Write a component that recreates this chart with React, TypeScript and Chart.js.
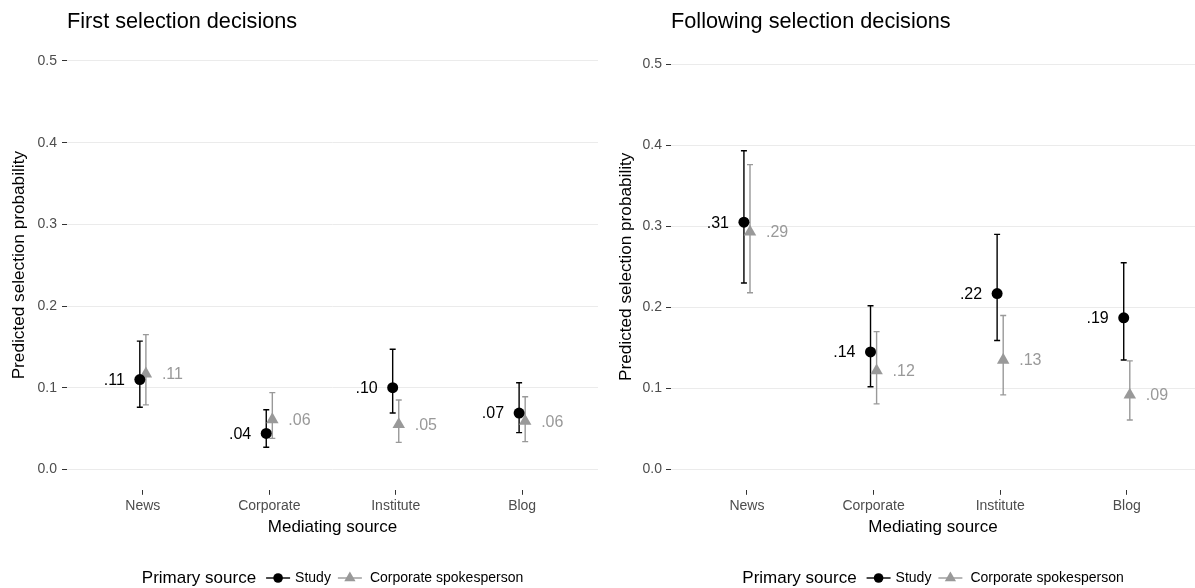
import React, { useEffect, useRef } from 'react';
import { Chart, registerables } from 'chart.js';

Chart.register(...registerables);

// ---------- data ----------
const categories = ['News', 'Corporate', 'Institute', 'Blog'];
const yTicks = [0, 0.1, 0.2, 0.3, 0.4, 0.5];
const seriesNames = ['Study', 'Corporate spokesperson'];
const legendTitle = 'Primary source';
const xTitle = 'Mediating source';
const yTitle = 'Predicted selection probability';

// First selection decisions
const firstTitle = 'First selection decisions';
const firstStudy = [0.110, 0.044, 0.100, 0.069];
const firstStudyLow = [0.076, 0.027, 0.069, 0.045];
const firstStudyHigh = [0.157, 0.073, 0.147, 0.106];
const firstStudyLabels = ['.11', '.04', '.10', '.07'];
const firstCorp = [0.117, 0.061, 0.055, 0.059];
const firstCorpLow = [0.079, 0.038, 0.033, 0.034];
const firstCorpHigh = [0.165, 0.094, 0.085, 0.089];
const firstCorpLabels = ['.11', '.06', '.05', '.06'];

// Following selection decisions
const followTitle = 'Following selection decisions';
const followStudy = [0.305, 0.145, 0.217, 0.187];
const followStudyLow = [0.230, 0.102, 0.159, 0.135];
const followStudyHigh = [0.393, 0.202, 0.290, 0.255];
const followStudyLabels = ['.31', '.14', '.22', '.19'];
const followCorp = [0.293, 0.122, 0.135, 0.092];
const followCorpLow = [0.218, 0.081, 0.092, 0.061];
const followCorpHigh = [0.376, 0.170, 0.190, 0.134];
const followCorpLabels = ['.29', '.12', '.13', '.09'];

// ---------- styling ----------
const FONT = "'Liberation Sans', Arial, Helvetica, sans-serif";
const BLACK = '#000000';
const GREY = '#999999';
const DODGE = 0.024;

type PanelProps = {
  title: string;
  study: number[];
  studyLow: number[];
  studyHigh: number[];
  studyLabels: string[];
  corp: number[];
  corpLow: number[];
  corpHigh: number[];
  corpLabels: string[];
  width: number;
  xMax: number;
  padLeft: number;
  padRight: number;
  axisWidth: number;
  titleBottom: number;
  labelPad: number;
};

function Panel(p: PanelProps) {
  const ref = useRef<HTMLCanvasElement | null>(null);

  useEffect(() => {
    const canvas = ref.current;
    if (!canvas) return;

    const series = [
      { vals: p.study, lo: p.studyLow, hi: p.studyHigh, labels: p.studyLabels, off: -DODGE, color: BLACK },
      { vals: p.corp, lo: p.corpLow, hi: p.corpHigh, labels: p.corpLabels, off: DODGE, color: GREY },
    ];

    const errorBars = {
      id: 'errorBars',
      beforeDatasetsDraw(chart: any) {
        const { ctx, scales } = chart;
        const xs = scales.x;
        const ys = scales.y;
        ctx.save();
        series.forEach((s) => {
          ctx.strokeStyle = s.color;
          ctx.lineWidth = 1.4;
          s.vals.forEach((_v, i) => {
            const x = xs.getPixelForValue(i + 1 + s.off);
            const y1 = ys.getPixelForValue(s.lo[i]);
            const y2 = ys.getPixelForValue(s.hi[i]);
            ctx.beginPath();
            ctx.moveTo(x, y1);
            ctx.lineTo(x, y2);
            ctx.moveTo(x - 3, y1);
            ctx.lineTo(x + 3, y1);
            ctx.moveTo(x - 3, y2);
            ctx.lineTo(x + 3, y2);
            ctx.stroke();
          });
        });
        ctx.restore();
      },
    };

    const valueLabels = {
      id: 'valueLabels',
      afterDatasetsDraw(chart: any) {
        const { ctx, scales } = chart;
        const xs = scales.x;
        const ys = scales.y;
        ctx.save();
        ctx.font = `16px ${FONT}`;
        ctx.textBaseline = 'middle';
        series.forEach((s, si) => {
          ctx.fillStyle = s.color;
          ctx.textAlign = si === 0 ? 'right' : 'left';
          s.vals.forEach((v, i) => {
            const x = xs.getPixelForValue(i + 1 + s.off);
            const y = ys.getPixelForValue(v) + 1;
            ctx.fillText(s.labels[i], si === 0 ? x - 15 : x + 16, y);
          });
        });
        ctx.restore();
      },
    };

    const legendPlugin = {
      id: 'bottomLegend',
      afterDraw(chart: any) {
        const { ctx, chartArea } = chart;
        const y = 578;
        ctx.save();
        ctx.textBaseline = 'middle';
        ctx.textAlign = 'left';
        const titleFont = `17px ${FONT}`;
        const itemFont = `14px ${FONT}`;
        ctx.font = titleFont;
        const tW = ctx.measureText(legendTitle).width;
        ctx.font = itemFont;
        const w0 = ctx.measureText(seriesNames[0]).width;
        const w1 = ctx.measureText(seriesNames[1]).width;
        const keyW = 24;
        const total = tW + 10 + keyW + 5 + w0 + 7 + keyW + 8 + w1;
        let x = (chartArea.left + chartArea.right) / 2 - total / 2;
        ctx.font = titleFont;
        ctx.fillStyle = '#000';
        ctx.fillText(legendTitle, x, y);
        x += tW + 10;
        // Study key
        ctx.strokeStyle = BLACK;
        ctx.lineWidth = 1.4;
        ctx.beginPath();
        ctx.moveTo(x, y);
        ctx.lineTo(x + keyW, y);
        ctx.stroke();
        ctx.fillStyle = BLACK;
        ctx.beginPath();
        ctx.arc(x + keyW / 2, y, 4.8, 0, Math.PI * 2);
        ctx.fill();
        x += keyW + 5;
        ctx.font = itemFont;
        ctx.fillStyle = '#000';
        ctx.fillText(seriesNames[0], x, y);
        x += w0 + 7;
        // Corporate key
        ctx.strokeStyle = GREY;
        ctx.beginPath();
        ctx.moveTo(x, y);
        ctx.lineTo(x + keyW, y);
        ctx.stroke();
        ctx.fillStyle = GREY;
        const cx = x + keyW / 2;
        const r = 6.5;
        ctx.beginPath();
        ctx.moveTo(cx, y - r);
        ctx.lineTo(cx + r * 0.866, y + r / 2);
        ctx.lineTo(cx - r * 0.866, y + r / 2);
        ctx.closePath();
        ctx.fill();
        x += keyW + 8;
        ctx.fillStyle = '#000';
        ctx.fillText(seriesNames[1], x, y);
        ctx.restore();
      },
    };

    const chart = new Chart(canvas, {
      type: 'scatter',
      data: {
        datasets: [
          {
            label: seriesNames[0],
            data: p.study.map((v, i) => ({ x: i + 1 - DODGE, y: v })),
            pointStyle: 'circle',
            pointRadius: 5.5,
            backgroundColor: BLACK,
            borderColor: BLACK,
            borderWidth: 0,
          },
          {
            label: seriesNames[1],
            data: p.corp.map((v, i) => ({ x: i + 1 + DODGE, y: v })),
            pointStyle: 'triangle',
            pointRadius: 7.2,
            backgroundColor: GREY,
            borderColor: GREY,
            borderWidth: 0,
          },
        ],
      },
      options: {
        animation: false,
        responsive: false,
        events: [],
        layout: { autoPadding: false, padding: { left: p.padLeft, right: p.padRight, top: 0, bottom: 46.8 } },
        plugins: {
          legend: { display: false },
          tooltip: { enabled: false },
          title: {
            display: true,
            text: p.title,
            align: 'start',
            fullSize: false,
            color: '#000',
            font: { family: FONT, size: 21.7, weight: 'normal' },
            padding: { top: 9, bottom: p.titleBottom },
          },
        },
        scales: {
          x: {
            type: 'linear',
            min: 0.4,
            max: p.xMax,
            afterBuildTicks: (s: any) => {
              s.ticks = categories.map((_c, i) => ({ value: i + 1 }));
            },
            afterFit: (s: any) => {
              s.height = 51.4;
            },
            ticks: {
              autoSkip: false,
              maxRotation: 0,
              padding: 3,
              color: '#4d4d4d',
              font: { family: FONT, size: 14 },
              callback: (v: any) => categories[Math.round(Number(v)) - 1] ?? '',
            },
            grid: { drawOnChartArea: false, drawTicks: true, tickLength: 5, tickColor: '#333333', tickWidth: 1 },
            border: { display: false },
            title: {
              display: true,
              text: xTitle,
              color: '#000',
              font: { family: FONT, size: 17 },
              padding: { top: 4, bottom: 4 },
            },
          },
          y: {
            type: 'linear',
            min: -0.025,
            max: 0.525,
            afterBuildTicks: (s: any) => {
              s.ticks = yTicks.map((v) => ({ value: v }));
            },
            afterFit: (s: any) => {
              s.width = p.axisWidth;
            },
            ticks: {
              padding: p.labelPad,
              color: '#4d4d4d',
              font: { family: FONT, size: 14 },
              callback: (v: any) => Number(v).toFixed(1),
            },
            grid: { color: '#ebebeb', lineWidth: 1, drawTicks: true, tickLength: 5, tickColor: '#333333', tickWidth: 1 },
            border: { display: false },
            title: {
              display: true,
              text: yTitle,
              color: '#000',
              font: { family: FONT, size: 17.2 },
              padding: { top: 4, bottom: 4 },
            },
          },
        },
      },
      plugins: [errorBars, valueLabels, legendPlugin],
    } as any);

    return () => {
      chart.destroy();
    };
  }, []);

  return <canvas ref={ref} width={p.width} height={588} style={{ display: 'block' }} />;
}

export default function App() {
  useEffect(() => {
    document.body.style.margin = '0';
    document.body.style.background = '#ffffff';
  }, []);

  return (
    <div style={{ position: 'absolute', left: 0, top: 0, width: 1195, height: 588, background: '#fff', overflow: 'hidden' }}>
      <div style={{ position: 'absolute', left: 0, top: 0 }}>
        <Panel
          title={firstTitle}
          study={firstStudy}
          studyLow={firstStudyLow}
          studyHigh={firstStudyHigh}
          studyLabels={firstStudyLabels}
          corp={firstCorp}
          corpLow={firstCorpLow}
          corpHigh={firstCorpHigh}
          corpLabels={firstCorpLabels}
          width={600}
          xMax={4.6}
          padLeft={4.8}
          padRight={2}
          axisWidth={62.2}
          titleBottom={5.5}
          labelPad={5}
        />
      </div>
      <div style={{ position: 'absolute', left: 600, top: 0 }}>
        <Panel
          title={followTitle}
          study={followStudy}
          studyLow={followStudyLow}
          studyHigh={followStudyHigh}
          studyLabels={followStudyLabels}
          corp={followCorp}
          corpLow={followCorpLow}
          corpHigh={followCorpHigh}
          corpLabels={followCorpLabels}
          width={595}
          xMax={4.539}
          padLeft={11.8}
          padRight={0}
          axisWidth={59.2}
          titleBottom={8.7}
          labelPad={4}
        />
      </div>
    </div>
  );
}
